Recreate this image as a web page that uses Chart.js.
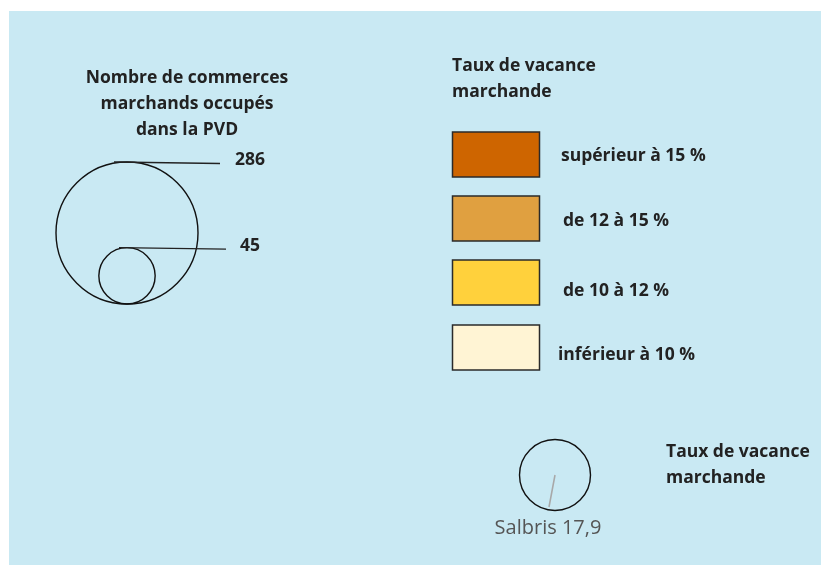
<!DOCTYPE html>
<html>
<head>
<meta charset="utf-8">
<script src="https://cdn.jsdelivr.net/npm/chart.js@4"></script>
<style>
  body { margin: 0; background: #fff; }
  #wrap { width: 821px; height: 565px; }
</style>
</head>
<body>
<div id="wrap"><canvas id="carte" width="821" height="565"></canvas></div>
<script>
var commerceLabels = ["286", "45"];
var commerceCounts = [286, 45];
var vacancyClasses = ["supérieur à 15 %", "de 12 à 15 %", "de 10 à 12 %", "inférieur à 10 %"];
var vacancyColors = ["#CE6500", "#E0A040", "#FFD13C", "#FFF4D4"];
var townName = "Salbris";
var townVacancy = 17.9;

var bigR = 71;           // rayon du cercle pour la valeur max
var baseX = 127, baseY = 304;
var fontB = "bold 17.5px 'Open Sans', 'Liberation Sans', sans-serif";
var textCol = "#222";

function rayon(v) { return bigR * Math.sqrt(v / commerceCounts[0]); }

var bubbles = commerceCounts.map(function (v) {
  var r = rayon(v);
  return { x: baseX, y: baseY - r, r: r };
});

var legendePlugin = {
  id: "legende",
  beforeDraw: function (chart) {
    var ctx = chart.ctx;
    ctx.save();
    ctx.fillStyle = "#C9E9F3";
    ctx.fillRect(9, 11, 812, 554);
    ctx.restore();
  },
  afterDraw: function (chart) {
    var ctx = chart.ctx;
    ctx.save();
    ctx.fillStyle = textCol;
    ctx.font = fontB;
    ctx.textAlign = "center";
    ctx.textBaseline = "middle";
    ["Nombre de commerces", "marchands occupés", "dans la PVD"].forEach(function (t, i) {
      ctx.fillText(t, 187, 78 + i * 26);
    });

    // traits de rappel + valeurs
    var meta = chart.getDatasetMeta(0);
    var offs = [[-13, 93, 108], [-8, 99, 113]];
    ctx.strokeStyle = "#222";
    ctx.lineWidth = 1.3;
    ctx.textAlign = "left";
    meta.data.forEach(function (pt, i) {
      var r = bubbles[i].r;
      var top = pt.y - r;
      ctx.beginPath();
      ctx.moveTo(pt.x + offs[i][0], top);
      ctx.lineTo(pt.x + offs[i][1], top + 1.5);
      ctx.stroke();
      ctx.fillText(commerceLabels[i], pt.x + offs[i][2], top - 2);
    });

    // classes de vacance
    ctx.fillText("Taux de vacance", 452, 66);
    ctx.fillText("marchande", 452, 92);
    var lx = [561, 563, 563, 558];
    var ly = [156, 221, 291, 355];
    var by = [132, 196, 260, 325];
    vacancyClasses.forEach(function (c, i) {
      ctx.fillStyle = vacancyColors[i];
      ctx.fillRect(452.5, by[i], 87, 45);
      ctx.strokeStyle = "#2a2a2a";
      ctx.lineWidth = 1.5;
      ctx.strokeRect(452.5, by[i], 87, 45);
      ctx.fillStyle = textCol;
      ctx.fillText(c, lx[i], ly[i]);
    });

    // commune
    var sp = chart.getDatasetMeta(1).data[0];
    ctx.strokeStyle = "#A8A8A8";
    ctx.lineWidth = 1.5;
    ctx.beginPath();
    ctx.moveTo(sp.x, sp.y);
    ctx.lineTo(sp.x - 6, sp.y + 32);
    ctx.stroke();
    ctx.fillStyle = "#555";
    ctx.font = "20px 'Open Sans', 'Liberation Sans', sans-serif";
    ctx.textAlign = "center";
    ctx.fillText(townName + " " + String(townVacancy).replace(".", ","), sp.x - 7, sp.y + 53);
    ctx.fillStyle = textCol;
    ctx.font = fontB;
    ctx.textAlign = "left";
    ctx.fillText("Taux de vacance", 666, 452);
    ctx.fillText("marchande", 666, 478);
    ctx.restore();
  }
};

new Chart(document.getElementById("carte"), {
  type: "bubble",
  data: {
    datasets: [
      { data: bubbles, backgroundColor: "rgba(0,0,0,0)", borderColor: "#111", borderWidth: 1.4, hoverRadius: 0 },
      { data: [{ x: 555, y: 475, r: 35.5 }], backgroundColor: "rgba(0,0,0,0)", borderColor: "#111", borderWidth: 1.4, hoverRadius: 0 }
    ]
  },
  options: {
    responsive: false,
    animation: false,
    clip: false,
    layout: { padding: 0, autoPadding: false },
    plugins: { legend: { display: false }, tooltip: { enabled: false } },
    scales: {
      x: { type: "linear", min: 0, max: 821, display: false },
      y: { type: "linear", min: 0, max: 565, reverse: true, display: false }
    }
  },
  plugins: [legendePlugin]
});
</script>
</body>
</html>
